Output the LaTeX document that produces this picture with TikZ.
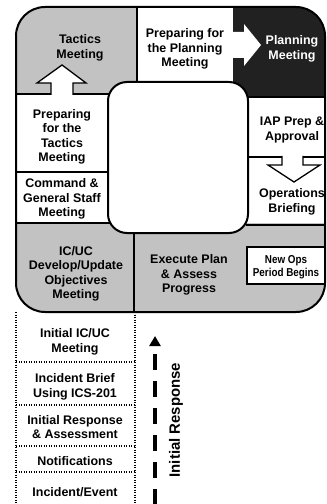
\documentclass[tikz,border=0pt]{standalone}
\usepackage{fontspec}
\setmainfont{Liberation Sans}
\newfontfamily\narrowfont[FakeStretch=0.86]{Liberation Sans}
\usetikzlibrary{arrows.meta}
\definecolor{cellgray}{gray}{0.76}
\definecolor{darkcell}{gray}{0.13}
\begin{document}
\begin{tikzpicture}[x=1bp,y=-1bp,
  lbl/.style={font=\bfseries\fontsize{12.5}{14.5}\selectfont, align=center, inner sep=0pt},
  smalllbl/.style={font=\narrowfont\bfseries\fontsize{11.5}{12.5}\selectfont, align=center, inner sep=0pt},
  bigbox/.style={line width=2bp},
  divider/.style={line width=1.3bp},
  dotline/.style={line width=1.2bp, dash pattern=on 1.2bp off 1.3bp},
  arrowshape/.style={fill=white, draw=black, line width=1.3bp, line join=miter}]
\useasboundingbox (0,0) rectangle (326,504);
\fill[white] (0,0) rectangle (326,504);

% ---- filled regions, clipped to the outer rounded ring
\begin{scope}
  \clip[rounded corners=29bp] (16,7) rectangle (325,312);
  \fill[white] (16,7) rectangle (326,312);
  \fill[cellgray] (16,7) rectangle (137,94);
  \fill[darkcell] (233,7) rectangle (326,97);
  \fill[cellgray] (16,223) rectangle (326,312);
\end{scope}

% ---- arrows between cells
\draw[arrowshape] (51,95) -- (51,83) -- (37,83) -- (62,65) -- (86,83) -- (73,83) -- (73,95);
\fill[white] (52,94) rectangle (72,97);
\draw[arrowshape, draw=none] (232,32) -- (244,32) -- (244,24) -- (261,45) -- (244,66) -- (244,58) -- (232,58) -- cycle;
\draw[arrowshape] (282,156) -- (282,165) -- (268,165) -- (294,182) -- (320,165) -- (303,165) -- (303,156);
\fill[white] (283,154) rectangle (302,158);

% ---- cell dividers
\draw[divider] (137,7) -- (137,82);
\draw[divider] (16,94) -- (51,94);
\draw[divider] (73,94) -- (110,94);
\draw[divider] (16,172) -- (110,172);
\draw[divider] (16,223) -- (110,223);
\draw[divider] (134,230) -- (134,312);
\draw[divider] (246,97) -- (326,97);
\draw[divider] (246,157) -- (282,157);
\draw[divider] (303,157) -- (326,157);
\draw[divider] (246,225) -- (326,225);

% ---- inner white rounded square
\draw[bigbox, fill=white, rounded corners=19bp] (108,82) rectangle (248,233);

% ---- outer ring border
\draw[bigbox, rounded corners=29bp] (16,7) rectangle (325,312);

% ---- New Ops box
\node[draw, line width=1.3bp, fill=white, minimum width=78bp, minimum height=37bp, inner sep=0pt] (newops) at (286,265.5) {};
\node[smalllbl] (newopstxt) at (286,267) {New Ops\\Period Begins};

% ---- ring labels
\node[lbl] (tactics) at (80,48) {Tactics\\Meeting};
\node[lbl] (prepplan) at (185,49) {Preparing for\\the Planning\\Meeting};
\node[lbl, text=white] (planning) at (292,49) {Planning\\Meeting};
\node[lbl] (preptac) at (62,137) {Preparing\\for the\\Tactics\\Meeting};
\node[lbl] (cgs) at (62,199) {Command \&\\General Staff\\Meeting};
\node[lbl] (icuc) at (76,274) {IC/UC\\Develop/Update\\Objectives\\Meeting};
\node[lbl] (execute) at (189,275) {Execute Plan\\\& Assess\\Progress};
\node[lbl] (iap) at (292,130) {IAP Prep \&\\Approval};
\node[lbl] (ops) at (292,202) {Operations\\Briefing};

% ---- initial response stack (dotted)
\draw[dotline] (16,312) -- (16,504);
\draw[dotline] (135,312) -- (135,504);
\draw[dotline] (16,362) -- (135,362);
\draw[dotline] (16,405) -- (135,405);
\draw[dotline] (16,446) -- (135,446);
\draw[dotline] (16,472) -- (135,472);

\node[lbl] (initmeet) at (75,342) {Initial IC/UC\\Meeting};
\node[lbl] (brief) at (75,387) {Incident Brief\\Using ICS-201};
\node[lbl] (initresp) at (75,427) {Initial Response\\\& Assessment};
\node[lbl] (notif) at (75,461) {Notifications};
\node[lbl] (event) at (75,492) {Incident/Event};

% ---- dashed arrow
\coordinate (arrowfoot) at (155,505);
\coordinate (arrowtip) at (155,336);
\draw[line width=3.2bp, dash pattern=on 16bp off 11bp, -{Triangle[width=11bp,length=10bp]}] (arrowfoot) -- (arrowtip);
\node[font=\bfseries\fontsize{15}{17}\selectfont, rotate=90, inner sep=0pt] (resp) at (176,420) {Initial Response};
\end{tikzpicture}
\end{document}
